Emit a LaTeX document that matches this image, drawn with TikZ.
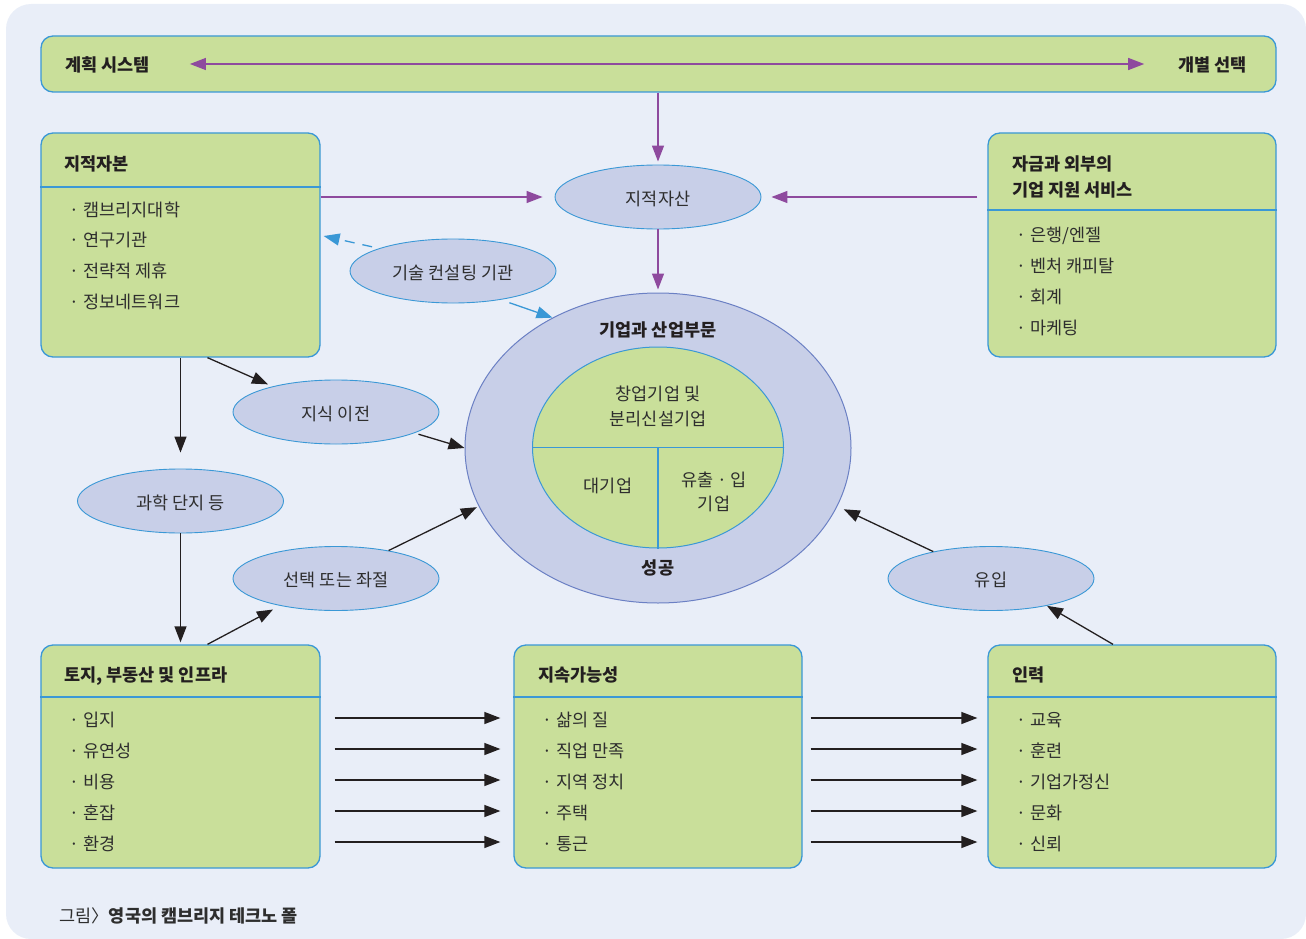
\documentclass[tikz,border=0pt]{standalone}
\usepackage{fontspec}
\setmainfont{Noto Sans CJK KR}
\usetikzlibrary{arrows.meta,shapes.geometric}
\definecolor{bgc}{HTML}{E9EEF8}
\definecolor{greenc}{HTML}{C9DF9A}
\definecolor{bluec}{HTML}{3A98D6}
\definecolor{ellc}{HTML}{C8CFE8}
\definecolor{bigb}{HTML}{6B80C4}
\definecolor{purp}{HTML}{8E4A9E}
\definecolor{blk}{HTML}{231F20}
\definecolor{tcol}{HTML}{2E2E2E}
\newcommand{\bul}{·\hspace{4.5pt}}
\begin{document}
\begin{tikzpicture}[x=1pt,y=-1pt,
  gbox/.style={draw=bluec, fill=greenc, line width=1.3pt, rounded corners=12pt, inner sep=0},
  divider/.style={draw=bluec, line width=1.1pt},
  sell/.style={ellipse, draw=bluec, fill=ellc, line width=0.9pt, inner sep=0,
    minimum width=206pt, minimum height=64pt, text=tcol,
    font=\fontsize{17.5pt}{21pt}\selectfont, text height=16pt, text depth=0pt},
  txt/.style={inner sep=0, text=tcol, font=\fontsize{17.5pt}{21pt}\selectfont,
    text height=16pt, text depth=0pt},
  ttl/.style={inner sep=0, text=blk, font=\fontsize{17.5pt}{21pt}\selectfont\bfseries,
    text height=16pt, text depth=0pt},
  itm/.style={txt, anchor=west},
  parr/.style={draw=purp, line width=1.3pt, -{Triangle[length=16pt,width=12pt]}},
  barr/.style={draw=blk, line width=1.3pt, -{Triangle[length=16pt,width=12pt]}},
  bluearr/.style={draw=bluec, line width=1.3pt, -{Triangle[length=16pt,width=12pt]}},
  bdash/.style={bluearr, dash pattern=on 10pt off 8pt}
]
\useasboundingbox (0,0) rectangle (1306,939);
\fill[bgc, rounded corners=25pt] (6,4) rectangle (1306,939);

% top bar
\node[gbox, minimum width=1235pt, minimum height=56pt] (topbar) at (658.5,64) {};
\node[ttl, anchor=west] (plantxt) at (65,64) {계획 시스템};
\node[ttl, anchor=east] (indtxt) at (1247,64) {개별 선택};
\draw[draw=purp, line width=1.3pt, {Triangle[length=16pt,width=12pt]}-{Triangle[length=16pt,width=12pt]},
  shorten <=40pt, shorten >=34pt] (plantxt.east) -- (indtxt.west);

% intellectual capital box
\node[gbox, minimum width=279pt, minimum height=224pt] (cap) at (180.5,245) {};
\draw[divider] (cap.west |- 0,187) -- (cap.east |- 0,187);
\node[ttl, anchor=west] (capt) at (64,163) {지적자본};
\node[itm] (c1) at (69,208) {\bul 캠브리지대학};
\node[itm] (c2) at (69,238) {\bul 연구기관};
\node[itm] (c3) at (69,269) {\bul 전략적 제휴};
\node[itm] (c4) at (69,300) {\bul 정보네트워크};

% funding box
\node[gbox, minimum width=288pt, minimum height=224pt] (fund) at (1132,245) {};
\draw[divider] (fund.west |- 0,210) -- (fund.east |- 0,210);
\node[ttl, anchor=west] (fundt1) at (1012,163) {자금과 외부의};
\node[ttl, anchor=west] (fundt2) at (1012,188) {기업 지원 서비스};
\node[itm] (f1) at (1016,233) {\bul 은행/엔젤};
\node[itm] (f2) at (1016,264) {\bul 벤처 캐피탈};
\node[itm] (f3) at (1016,295) {\bul 회계};
\node[itm] (f4) at (1016,326) {\bul 마케팅};

% land box
\node[gbox, minimum width=279pt, minimum height=223pt] (land) at (180.5,756.5) {};
\draw[divider] (land.west |- 0,697) -- (land.east |- 0,697);
\node[ttl, anchor=west] (landt) at (64,673) {토지, 부동산 및 인프라};
\node[itm] (l1) at (69,718) {\bul 입지};
\node[itm] (l2) at (69,749) {\bul 유연성};
\node[itm] (l3) at (69,780) {\bul 비용};
\node[itm] (l4) at (69,811) {\bul 혼잡};
\node[itm] (l5) at (69,842) {\bul 환경};

% sustainability box
\node[gbox, minimum width=288pt, minimum height=223pt] (sust) at (658,756.5) {};
\draw[divider] (sust.west |- 0,697) -- (sust.east |- 0,697);
\node[ttl, anchor=west] (sustt) at (538,673) {지속가능성};
\node[itm] (s1) at (542,718) {\bul 삶의 질};
\node[itm] (s2) at (542,749) {\bul 직업 만족};
\node[itm] (s3) at (542,780) {\bul 지역 정치};
\node[itm] (s4) at (542,811) {\bul 주택};
\node[itm] (s5) at (542,842) {\bul 통근};

% staff box
\node[gbox, minimum width=288pt, minimum height=223pt] (staff) at (1132,756.5) {};
\draw[divider] (staff.west |- 0,697) -- (staff.east |- 0,697);
\node[ttl, anchor=west] (stafft) at (1012,673) {인력};
\node[itm] (p1) at (1016,718) {\bul 교육};
\node[itm] (p2) at (1016,749) {\bul 훈련};
\node[itm] (p3) at (1016,780) {\bul 기업가정신};
\node[itm] (p4) at (1016,811) {\bul 문화};
\node[itm] (p5) at (1016,842) {\bul 신뢰};

% big ellipse
\node[ellipse, draw=bigb, fill=ellc, line width=1pt, inner sep=0,
  minimum width=386pt, minimum height=310pt] (big) at (658,448) {};
\node[ellipse, draw=bluec, fill=greenc, line width=1pt, inner sep=0,
  minimum width=251pt, minimum height=201pt] (inner) at (658,447.5) {};
\draw[divider] (inner.west) -- (inner.east);
\draw[divider] (inner.center) -- (inner.south);
\node[ttl] (bigt) at (658,328) {기업과 산업부문};
\node[ttl] (succ) at (658,566) {성공};
\node[txt] (st1) at (658,392) {창업기업 및};
\node[txt] (st2) at (658,417) {분리신설기업};
\node[txt] (lg) at (608,484) {대기업};
\node[txt] (io1) at (714,478) {유출 · 입};
\node[txt] (io2) at (714,502) {기업};

% small ellipses
\node[sell] (ia) at (658,197) {지적자산};
\node[sell] (tech) at (453,271) {기술 컨설팅 기관};
\node[sell] (know) at (336,412) {지식 이전};
\node[sell] (park) at (180.5,501) {과학 단지 등};
\node[sell] (choice) at (336,578.5) {선택 또는 좌절};
\node[sell] (inflow) at (991,578.5) {유입};

% purple arrows
\draw[parr, shorten >=3pt] (topbar.south -| ia) -- (ia.north);
\draw[parr, shorten >=12pt] (cap.east |- ia) -- (ia.west);
\draw[parr, shorten <=10pt, shorten >=10pt] (fund.west |- ia) -- (ia.east);
\draw[parr, shorten >=3pt] (ia.south) -- (big.north);

% blue arrows
\coordinate (capD) at ([shift={(3,-9)}]cap.east);
\draw[bdash, shorten <=7pt] (tech.163) -- (capD);
\draw[bluearr, shorten <=9pt] (tech.-31) -- (big.129);

% black arrows
\draw[barr, shorten >=5pt] ([xshift=27pt]cap.south) -- (know.158);
\draw[barr, shorten <=4pt] (know.-15) -- (big.west);
\draw[barr, shorten >=16pt] (cap.south) -- (park.north);
\draw[barr, shorten >=2pt] (park.south) -- (land.north);
\draw[barr, shorten >=8pt] ([xshift=27pt]land.north) -- (choice.206);
\draw[barr, shorten >=2pt] (choice.28) -- (big.198);
\draw[barr] ([xshift=-19pt]staff.north) -- (inflow.-26);
\draw[barr, shorten >=7pt] (inflow.155) -- (big.-18);

% horizontal arrows
\foreach \i in {l1,l2,l3,l4,l5}{
  \draw[barr, shorten <=14pt, shorten >=13pt] (land.east |- \i) -- (sust.west |- \i);
}
\foreach \i in {s1,s2,s3,s4,s5}{
  \draw[barr, shorten <=8pt, shorten >=10pt] (sust.east |- \i) -- (staff.west |- \i);
}

% caption
\node[txt, anchor=west, text=tcol] (cap1) at (59,914) {그림〉\textbf{영국의 캠브리지 테크노 폴}};
\end{tikzpicture}
\end{document}
